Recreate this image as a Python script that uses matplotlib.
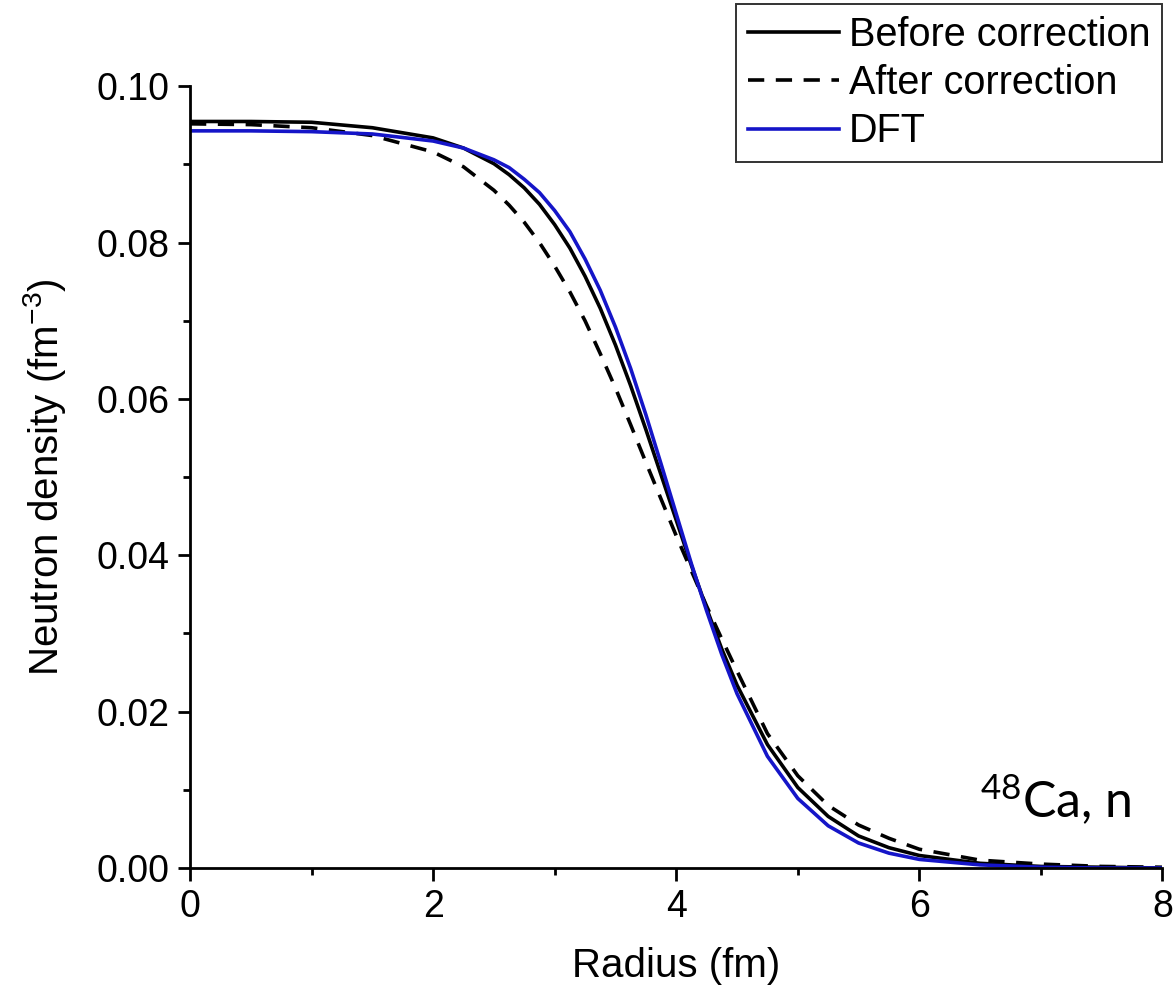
import matplotlib
matplotlib.use('Agg')
import matplotlib.pyplot as plt
from matplotlib.ticker import MultipleLocator, FormatStrFormatter

plt.rcParams['font.family'] = ['Liberation Sans', 'DejaVu Sans']
plt.rcParams['mathtext.default'] = 'regular'

# radius (fm) and neutron densities (fm^-3)
radius = [0, 0.5, 1.0, 1.5, 2.0, 2.25, 2.5, 2.625, 2.75, 2.875, 3.0, 3.125, 3.25,
          3.375, 3.5, 3.625, 3.75, 3.875, 4.0, 4.125, 4.25, 4.375, 4.5, 4.75,
          5.0, 5.25, 5.5, 5.75, 6.0, 6.5, 7.0, 7.5, 8.0]
before = [0.0955, 0.0955, 0.0954, 0.0947, 0.0934, 0.0921, 0.0901, 0.0887, 0.0870,
          0.0849, 0.0823, 0.0793, 0.0757, 0.0716, 0.0669, 0.0617, 0.0561, 0.0503,
          0.0445, 0.0387, 0.0332, 0.0280, 0.0234, 0.0158, 0.0103, 0.0066, 0.0041,
          0.0026, 0.0016, 0.0006, 0.0002, 0.0001, 0.0]
after = [0.0952, 0.0951, 0.0947, 0.0937, 0.0916, 0.0897, 0.0867, 0.0848, 0.0826,
         0.0800, 0.0770, 0.0737, 0.0700, 0.0658, 0.0614, 0.0567, 0.0519, 0.0472,
         0.0425, 0.0380, 0.0335, 0.0293, 0.0252, 0.0172, 0.0118, 0.0080, 0.0055,
         0.0038, 0.0024, 0.0010, 0.0005, 0.0002, 0.0001]
dft = [0.0943, 0.0943, 0.0942, 0.0939, 0.0930, 0.0921, 0.0906, 0.0896, 0.0881,
       0.0864, 0.0841, 0.0814, 0.0779, 0.0739, 0.0692, 0.0639, 0.0580, 0.0517,
       0.0453, 0.0389, 0.0329, 0.0273, 0.0223, 0.0143, 0.0089, 0.0054, 0.0032,
       0.0019, 0.0011, 0.0004, 0.0001, 0.0, 0.0]

fig = plt.figure(figsize=(11.73, 9.92), dpi=100)
ax = fig.add_axes([0.162, 0.125, 0.829, 0.788])

ax.plot(radius, before, color='black', lw=2.6, label='Before correction')
ax.plot(radius, after, color='black', lw=2.6, dashes=(4.5, 3.2), label='After correction')
ax.plot(radius, dft, color='#1515c8', lw=2.6, label='DFT')

ax.set_xlim(0, 8)
ax.set_ylim(0, 0.1)
ax.spines['top'].set_visible(False)
ax.spines['right'].set_visible(False)
for s in ['left', 'bottom']:
    ax.spines[s].set_linewidth(2)

ax.xaxis.set_major_locator(MultipleLocator(2))
ax.xaxis.set_minor_locator(MultipleLocator(1))
ax.yaxis.set_major_locator(MultipleLocator(0.02))
ax.yaxis.set_minor_locator(MultipleLocator(0.01))
ax.yaxis.set_major_formatter(FormatStrFormatter('%.2f'))
ax.tick_params(which='major', direction='out', length=9, width=2, labelsize=27, pad=6)
ax.tick_params(which='minor', direction='out', length=5, width=2)

ax.set_xlabel('Radius (fm)', fontsize=29, labelpad=16)
ax.set_ylabel('Neutron density (fm$^{-3}$)', fontsize=29, labelpad=20)

ax.text(0.968, 0.052, '$^{48}$Ca, n', transform=ax.transAxes, fontsize=36,
        family='Lato', ha='right', va='bottom')

leg = fig.legend(loc='upper right', bbox_to_anchor=(0.991, 0.996), fontsize=28.5,
                 frameon=True, fancybox=False, edgecolor='#333333', framealpha=1,
                 handlelength=2.3, handletextpad=0.25, borderpad=0.3,
                 labelspacing=0.26, borderaxespad=0)
leg.get_frame().set_linewidth(1.4)

fig.savefig('out.png', dpi=100)
